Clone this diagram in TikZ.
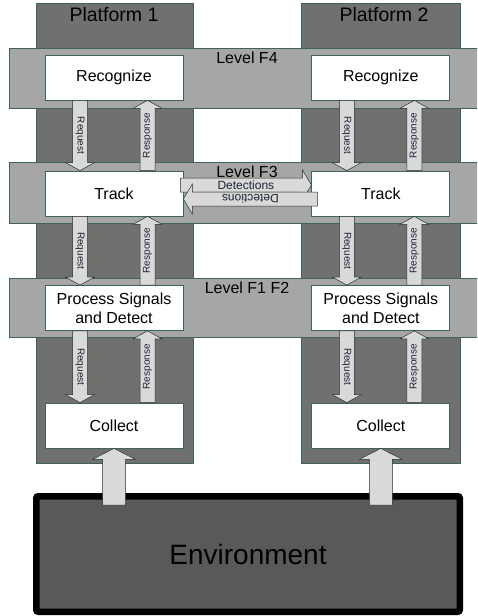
\documentclass[tikz,border=0pt]{standalone}
\usepackage{fontspec}
\setmainfont{Liberation Sans}
\definecolor{colgray}{HTML}{707070}
\definecolor{bandgray}{HTML}{A6A6A6}
\definecolor{edgegreen}{HTML}{3E6650}
\definecolor{arrowgray}{HTML}{D9D9D9}
\definecolor{envgray}{HTML}{595959}
\definecolor{ink}{HTML}{1E2438}
\usetikzlibrary{positioning,calc}

% block arrow: shaft half width, head half width, head length, start, end, label options, label
\newcommand{\blkarrow}[7]{%
  \coordinate (ba-s) at (#4);
  \coordinate (ba-e) at (#5);
  \coordinate (ba-h) at ($(ba-e)!#3!(ba-s)$);
  \filldraw[fatarrow] ($(ba-s)!#1!90:(ba-e)$) -- ($(ba-h)!#1!90:(ba-e)$) -- ($(ba-h)!#2!90:(ba-e)$)
    -- (ba-e) -- ($(ba-h)!#2!-90:(ba-e)$) -- ($(ba-h)!#1!-90:(ba-e)$) -- ($(ba-s)!#1!-90:(ba-e)$) -- cycle;
  \node[flowlabel,#6] at ($(ba-s)!0.5!(ba-e)$) {#7};
}

\begin{document}
\begin{tikzpicture}[x=1pt,y=-1pt,
      stagebox/.style={draw=edgegreen,fill=white,line width=0.8pt,minimum width=138pt,minimum height=45pt,
        inner sep=0pt,align=center,font=\fontsize{16}{19}\selectfont},
      fatarrow/.style={draw=edgegreen!50!black,fill=arrowgray,line width=0.5pt},
      flowlabel/.style={inner sep=0pt,text=ink,font=\fontsize{10}{10}\selectfont},
      detlabel/.style={font=\fontsize{12}{12}\selectfont},
      levelname/.style={anchor=base,font=\fontsize{16}{18}\selectfont},
      platname/.style={anchor=base,font=\fontsize{19.5}{21}\selectfont},
      envbox/.style={draw=black,fill=envgray,line width=6.5pt,rounded corners=2pt,minimum width=423.5pt,
        minimum height=115.5pt,font=\fontsize{28}{30}\selectfont}]
    \useasboundingbox (0,0) rectangle (477,616);
    \clip (0,0) rectangle (477,616);
    % platforms
    \filldraw[fill=colgray,draw=edgegreen,line width=0.8pt] (36,3) rectangle (193,463);
    \filldraw[fill=colgray,draw=edgegreen,line width=0.8pt] (301,3) rectangle (460,463);
    \node[platname] (plat1) at (114,21) {Platform 1};
    \node[platname] (plat2) at (384,21) {Platform 2};
    % levels
    \filldraw[fill=bandgray,draw=edgegreen,line width=0.8pt] (9,48) rectangle (490,108);
    \filldraw[fill=bandgray,draw=edgegreen,line width=0.8pt] (9,162) rectangle (490,223);
    \filldraw[fill=bandgray,draw=edgegreen,line width=0.8pt] (9,278) rectangle (490,337);
    \node[levelname] (lvf4) at (247,63) {Level F4};
    \node[levelname] (lvf3) at (247,177) {Level F3};
    \node[levelname] (lvf12) at (247,293) {Level F1 F2};
    % functions
    \node[stagebox] (rec1) at (114,77.5) {Recognize};
    \node[stagebox,right=128pt of rec1] (rec2) {Recognize};
    \node[stagebox] (trk1) at (114,193.5) {Track};
    \node[stagebox,right=128pt of trk1] (trk2) {Track};
    \node[stagebox] (proc1) at (114,308) {Process Signals\\and Detect};
    \node[stagebox,right=128pt of proc1] (proc2) {Process Signals\\and Detect};
    \node[stagebox] (col1) at (114,425.5) {Collect};
    \node[stagebox,right=128pt of col1] (col2) {Collect};
    % requests and responses
    \foreach \up/\dn in {rec/trk,trk/proc,proc/col}{
      \foreach \p in {1,2}{
        \blkarrow{7.5pt}{14.5pt}{8pt}{$(\up\p.south)+(-34,0)$}{$(\dn\p.north)+(-34,0)$}{rotate=-90}{Request}
        \blkarrow{7.5pt}{14.5pt}{8pt}{$(\dn\p.north)+(33.5,0)$}{$(\up\p.south)+(33.5,0)$}{rotate=90}{Response}
      }
    }
    % detections between platforms
    \blkarrow{7pt}{15pt}{9pt}{$(trk1.east)+(-3,-8.5)$}{$(trk2.west)+(0,-8.5)$}{detlabel}{Detections}
    \blkarrow{7pt}{15pt}{9pt}{$(trk2.west)+(6,5.5)$}{$(trk1.east)+(0,5.5)$}{detlabel,rotate=180}{Detections}
    % environment
    \node[envbox] (env) at (248,554) {Environment};
    \blkarrow{11.5pt}{21.5pt}{11pt}{$(env.north -| col1.south)+(0,12)$}{col1.south}{}{}
    \blkarrow{11.5pt}{21.5pt}{11pt}{$(env.north -| col2.south)+(0,12)$}{col2.south}{}{}
  \end{tikzpicture}
\end{document}
